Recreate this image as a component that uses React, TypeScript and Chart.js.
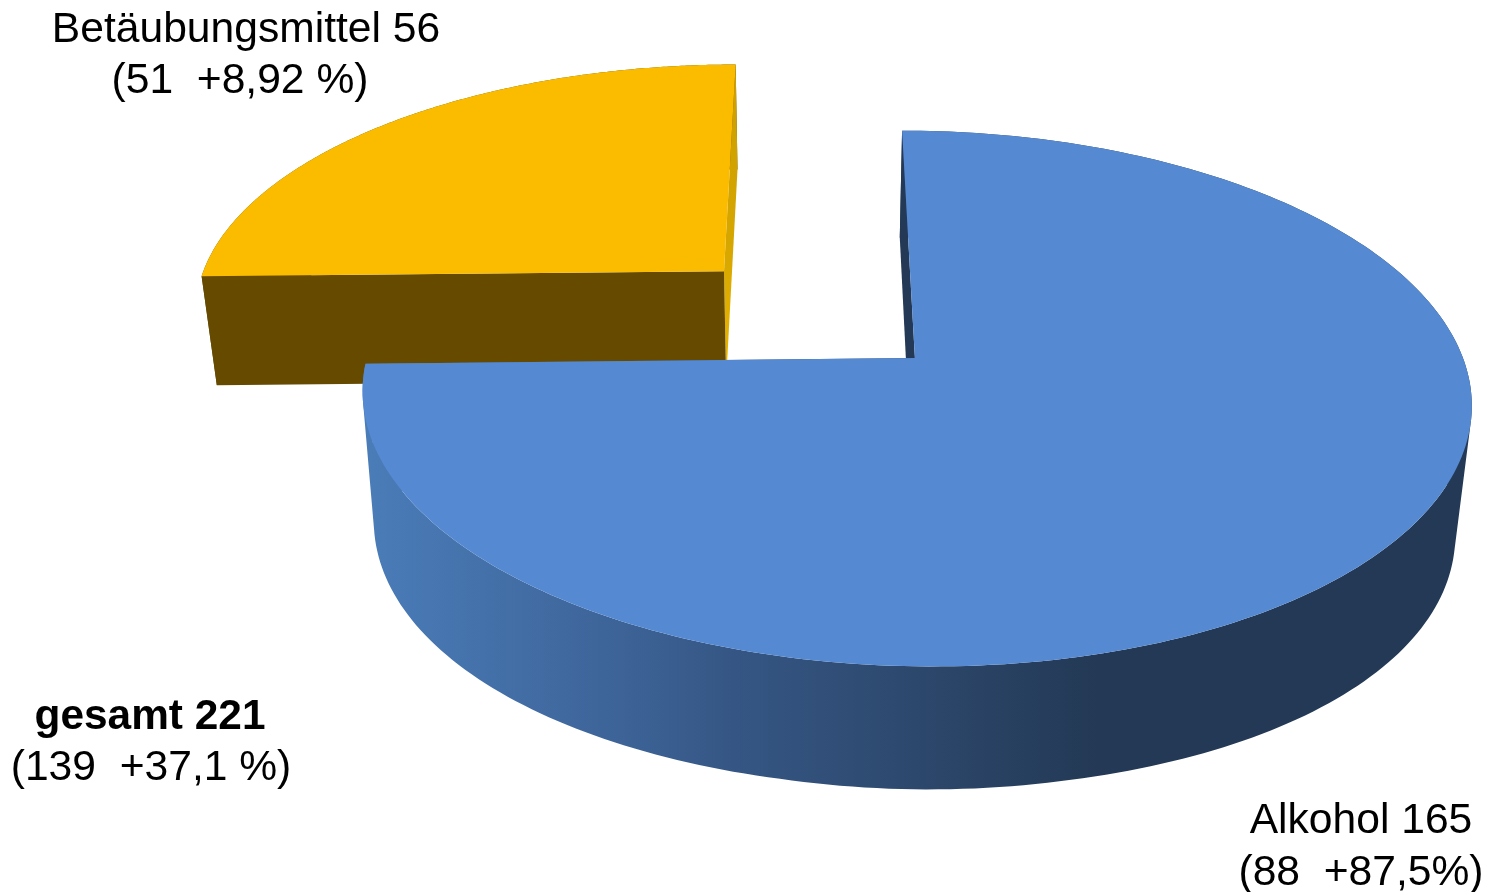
import React, { useEffect, useRef } from "react";
import { Chart, registerables } from "chart.js";

Chart.register(...registerables);

const categories = ["Alkohol", "Betäubungsmittel"];
const values = [165, 56];
const labelLines = [
  ["Alkohol 165", "(88  +87,5%)"],
  ["Betäubungsmittel 56", "(51  +8,92 %)"],
];
const totalLines = ["gesamt 221", "(139  +37,1 %)"];

const EXPLODE = 0.25;
// ground plane -> screen projection
const P = { x0: 817, y0: 313.5, a: 534, b: 248.5, k: 0.147 };

type Pt = [number, number];

function top(u: number, v: number): Pt {
  const w = 1 - P.k * v;
  return [P.x0 + (P.a * u) / w, P.y0 + (P.b * v) / w];
}
function bottom(u: number, v: number, bulge: number): Pt {
  const [X, Y] = top(u, v);
  const extra = bulge * Math.max(0, 1 - ((v - 0.3) / 0.85) ** 2);
  return [X + 0.025 * (810 - X), Y + 103 + 0.03 * Y + extra];
}

function area(q: Pt[]) {
  let s = 0;
  q.forEach((p, i) => {
    const n = q[(i + 1) % q.length];
    s += p[0] * n[1] - n[0] * p[1];
  });
  return s;
}

function tracePoly(ctx: CanvasRenderingContext2D, pts: Pt[], fill: any) {
  ctx.beginPath();
  pts.forEach((p, i) => (i ? ctx.lineTo(p[0], p[1]) : ctx.moveTo(p[0], p[1])));
  ctx.closePath();
  ctx.fillStyle = fill;
  ctx.fill();
}

const projectedPie = {
  id: "projectedPie",
  beforeDatasetsDraw(chart: any) {
    const ctx: CanvasRenderingContext2D = chart.ctx;
    const arcs = chart.getDatasetMeta(0).data;
    const blueGrad = ctx.createLinearGradient(370, 0, 1100, 0);
    blueGrad.addColorStop(0, "#4A7CB8");
    blueGrad.addColorStop(0.32, "#3E659A");
    blueGrad.addColorStop(0.5, "#355684");
    blueGrad.addColorStop(0.85, "#294263");
    blueGrad.addColorStop(1, "#233955");
    const goldGrad = ctx.createLinearGradient(0, 65, 0, 360);
    goldGrad.addColorStop(0, "#CC9F00");
    goldGrad.addColorStop(0.6, "#D6A600");
    goldGrad.addColorStop(1, "#E8B400");
    const styles = [
      { face: "#558AD3", outer: blueGrad, start: "#233955", end: blueGrad, bulge: 14 },
      { face: "#FBBC00", outer: "#664A00", start: "#664A00", end: goldGrad, bulge: -3 },
    ];
    for (let i = arcs.length - 1; i >= 0; i--) {
      const { startAngle, endAngle } = arcs[i];
      const s = styles[i];
      const mid = (startAngle + endAngle) / 2;
      const ou = EXPLODE * Math.cos(mid);
      const ov = EXPLODE * Math.sin(mid);
      const upper: Pt[] = [];
      const lower: Pt[] = [];
      const n = 240;
      for (let j = 0; j <= n; j++) {
        const t = startAngle + ((endAngle - startAngle) * j) / n;
        const u = ou + Math.cos(t);
        const v = ov + Math.sin(t);
        upper.push(top(u, v));
        lower.push(bottom(u, v, s.bulge));
      }
      // outer wall: union of quads with the same orientation
      ctx.beginPath();
      for (let j = 0; j < n; j++) {
        let q: Pt[] = [upper[j], upper[j + 1], lower[j + 1], lower[j]];
        if (area(q) < 0) q = q.reverse();
        q.forEach((p, k) => (k ? ctx.lineTo(p[0], p[1]) : ctx.moveTo(p[0], p[1])));
        ctx.closePath();
      }
      ctx.fillStyle = s.outer;
      ctx.fill("nonzero");
      const cTop = top(ou, ov);
      const cBot = bottom(ou, ov, s.bulge);
      tracePoly(ctx, [cTop, upper[n], lower[n], cBot], s.end);
      tracePoly(ctx, [cTop, upper[0], lower[0], cBot], s.start);
      tracePoly(ctx, [cTop, ...upper], s.face);
    }
    return false;
  },
  afterDraw(chart: any) {
    const ctx: CanvasRenderingContext2D = chart.ctx;
    ctx.save();
    ctx.fillStyle = "#000";
    ctx.textAlign = "center";
    ctx.textBaseline = "alphabetic";
    const font = "42.6px 'Liberation Sans', Arial, sans-serif";
    const bold = "bold 42.4px 'Liberation Sans', Arial, sans-serif";
    ctx.font = font;
    ctx.fillText(labelLines[1][0], 246, 42);
    ctx.fillText(labelLines[1][1], 240, 93);
    ctx.fillText(labelLines[0][0], 1361, 833);
    ctx.fillText(labelLines[0][1], 1361, 885);
    ctx.font = bold;
    ctx.fillText(totalLines[0], 150, 729);
    ctx.font = font;
    ctx.fillText(totalLines[1], 151, 780);
    ctx.restore();
  },
};

export default function App() {
  const ref = useRef<HTMLCanvasElement>(null);
  useEffect(() => {
    const chart = new Chart(ref.current!, {
      type: "pie",
      data: {
        labels: categories,
        datasets: [{ data: values, backgroundColor: ["#558AD3", "#FBBC00"], borderWidth: 0 }],
      },
      options: {
        animation: false,
        responsive: false,
        devicePixelRatio: 1,
        rotation: 0,
        plugins: { legend: { display: false }, tooltip: { enabled: false }, title: { display: false } },
      },
      plugins: [projectedPie],
    } as any);
    return () => chart.destroy();
  }, []);
  return (
    <div style={{ position: "fixed", left: 0, top: 0, width: 1485, height: 892, background: "#fff", overflow: "hidden" }}>
      <canvas ref={ref} width={1485} height={892} style={{ display: "block" }} />
    </div>
  );
}
